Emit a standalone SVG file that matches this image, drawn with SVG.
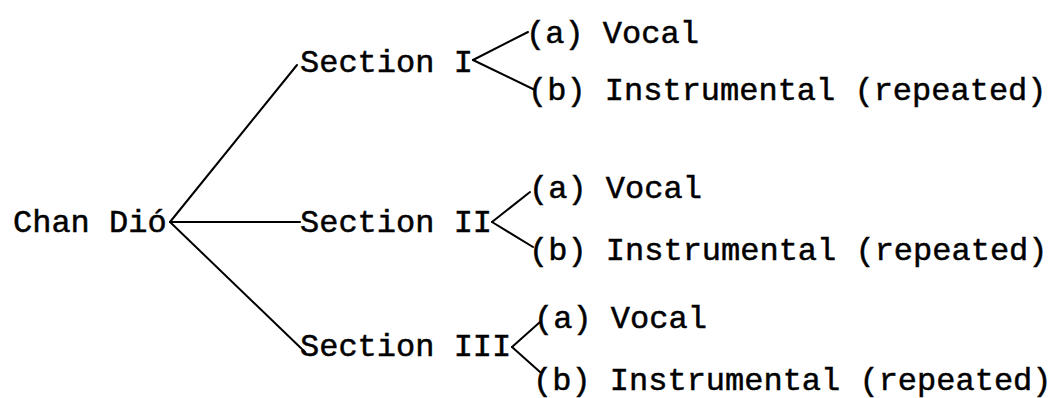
<svg xmlns="http://www.w3.org/2000/svg" width="1055" height="398" viewBox="0 0 1055 398">
<style>
text { font-family: "Liberation Mono", "DejaVu Sans Mono", monospace; font-size: 32px; fill: #000; stroke: #000; stroke-width: 0.5; }
.c line { stroke: #000; stroke-width: 2; stroke-linecap: round; }
</style>
<rect width="1055" height="398" fill="#fff"/>
<g id="connectors" class="c">
<line x1="170" y1="222" x2="297" y2="65"/>
<line x1="170" y1="222" x2="300" y2="222"/>
<line x1="170" y1="222" x2="305" y2="352"/>
<line x1="473" y1="60" x2="528" y2="32"/>
<line x1="473" y1="60" x2="535" y2="90"/>
<line x1="492" y1="222" x2="530" y2="192"/>
<line x1="492" y1="222" x2="533" y2="247"/>
<line x1="512" y1="347" x2="540" y2="322"/>
<line x1="512" y1="347" x2="540" y2="372"/>
</g>
<g id="root"><text x="13" y="232">Chan Dió</text></g>
<g id="section1"><text x="300" y="72">Section I</text></g>
<g id="section2"><text x="300" y="232">Section II</text></g>
<g id="section3"><text x="300" y="356">Section III</text></g>
<g id="s1a"><text x="526" y="43">(a) Vocal</text></g>
<g id="s1b"><text x="528" y="100">(b) Instrumental (repeated)</text></g>
<g id="s2a"><text x="529" y="198">(a) Vocal</text></g>
<g id="s2b"><text x="529" y="260">(b) Instrumental (repeated)</text></g>
<g id="s3a"><text x="534" y="328">(a) Vocal</text></g>
<g id="s3b"><text x="533" y="390">(b) Instrumental (repeated)</text></g>
</svg>
